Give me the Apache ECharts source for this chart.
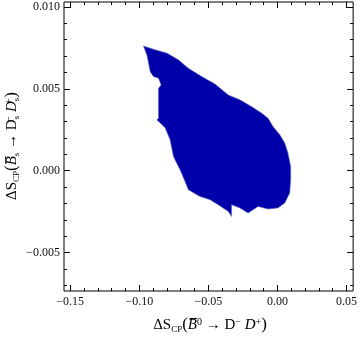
<!DOCTYPE html>
<html><head><meta charset="utf-8">
<script src="https://cdn.jsdelivr.net/npm/echarts@6/dist/echarts.min.js"></script>
<style>html,body{margin:0;padding:0;background:#fff}#c{width:360px;height:339px}</style>
</head><body><div id="c"></div>
<script>
// Region boundary (allowed region), traced clockwise from upper-left tip
const regionX = [-0.0970,-0.0885,-0.0801,-0.0717,-0.0645,-0.0548,-0.0452,-0.0356,-0.0272,-0.0188,-0.0115,-0.0068,-0.0032,0.0017,0.0053,0.0076,0.0096,0.0096,0.0089,0.0053,0.0004,-0.0068,-0.0140,-0.0212,-0.0272,-0.0332,-0.0332,-0.0356,-0.0429,-0.0488,-0.0561,-0.0645,-0.0669,-0.0705,-0.0753,-0.0777,-0.0813,-0.0873,-0.0861,-0.0861,-0.0842,-0.0861,-0.0898,-0.0921,-0.0945];
const regionY = [0.00762,0.00738,0.00718,0.00677,0.00626,0.00575,0.00530,0.00463,0.00433,0.00392,0.00352,0.00321,0.00270,0.00220,0.00169,0.00108,0.00026,-0.00055,-0.00136,-0.00197,-0.00227,-0.00234,-0.00218,-0.00258,-0.00227,-0.00207,-0.00279,-0.00248,-0.00207,-0.00177,-0.00157,-0.00116,-0.00065,0.00006,0.00087,0.00189,0.00262,0.00311,0.00321,0.00504,0.00524,0.00565,0.00575,0.00605,0.00707];

const xMajorTicks = [-0.15,-0.10,-0.05,0.00,0.05];
const xMinorTicks = [-0.14,-0.13,-0.12,-0.11,-0.09,-0.08,-0.07,-0.06,-0.04,-0.03,-0.02,-0.01,0.01,0.02,0.03,0.04];
const yMajorTicks = [-0.005,0.000,0.005,0.010];
const yMinorTicks = [-0.007,-0.006,-0.004,-0.003,-0.002,-0.001,0.001,0.002,0.003,0.004,0.006,0.007,0.008,0.009];
const X_MIN = -0.1545, X_MAX = 0.0548, Y_MIN = -0.00734, Y_MAX = 0.01030;

const chart = echarts.init(document.getElementById('c'), null, {renderer:'canvas'});
const fam = '"Liberation Serif","DejaVu Serif",serif';
const minus = s => s.replace('-', '\u2212');

function mkAxis(kind, pos, ticks, len, labels, fmt, min, max) {
  return {
    type:'value', min:min, max:max, position:pos, gridIndex:0,
    axisLine:{show:false, onZero:false}, splitLine:{show:false},
    axisTick:{show:true, inside:true, length:len, customValues:ticks, lineStyle:{color:'#000', width:1}},
    axisLabel:{show:labels, customValues:ticks, formatter:fmt, fontFamily:fam, fontSize:12, color:'#111', margin: kind==='x'?5:4},
    minorTick:{show:false}
  };
}
const xf = v => minus(v.toFixed(2));
const yf = v => minus(v.toFixed(3));

const rich = {
  n:{fontFamily:fam, fontSize:15, color:'#111', lineHeight:20, verticalAlign:'middle'},
  i:{fontFamily:fam, fontSize:15, fontStyle:'italic', color:'#111', lineHeight:20, verticalAlign:'middle'},
  sb:{fontFamily:fam, fontSize:9, color:'#111', lineHeight:20, verticalAlign:'bottom', padding:[0,0,1,0]},
  sp:{fontFamily:fam, fontSize:10, color:'#111', lineHeight:20, verticalAlign:'top', padding:[2,0,0,0]},
  sz:{fontFamily:fam, fontSize:10, color:'#111', lineHeight:20, verticalAlign:'top', padding:[2,0,0,0], width:0.01},
  p:{fontFamily:fam, fontSize:17, color:'#111', lineHeight:20, verticalAlign:'middle'}
};

const option = {
  animation:false,
  backgroundColor:'#fff',
  grid:{left:64, right:6, top:2, bottom:48, show:true, borderColor:'#000', borderWidth:1, backgroundColor:'transparent'},
  xAxis:[
    mkAxis('x','bottom',xMajorTicks,6,true,xf,X_MIN,X_MAX),
    mkAxis('x','bottom',xMinorTicks,3,false,xf,X_MIN,X_MAX),
    mkAxis('x','top',xMajorTicks,6,false,xf,X_MIN,X_MAX),
    mkAxis('x','top',xMinorTicks,3,false,xf,X_MIN,X_MAX)
  ],
  yAxis:[
    mkAxis('y','left',yMajorTicks,6,true,yf,Y_MIN,Y_MAX),
    mkAxis('y','left',yMinorTicks,3,false,yf,Y_MIN,Y_MAX),
    mkAxis('y','right',yMajorTicks,6,false,yf,Y_MIN,Y_MAX),
    mkAxis('y','right',yMinorTicks,3,false,yf,Y_MIN,Y_MAX)
  ],
  series:[{
    type:'custom', xAxisIndex:0, yAxisIndex:0,
    data:[[regionX[0], regionY[0]]],
    renderItem:function(params, api){
      const pts = regionX.map((x,k)=>api.coord([x, regionY[k]]));
      return {type:'polygon', shape:{points:pts}, style:{fill:'#0000ab', stroke:'#6a6ab8', lineWidth:0.6}};
    }
  }],
  graphic:[
    {type:'text', x:210, y:325, style:{
      text:'{n|ΔS}{sb|CP}{p|(}{i|B\u0305}{sp|0}{n| → D}{sp|−}{n| }{i|D}{sp|+}{p|)}',
      rich:rich, align:'center', verticalAlign:'middle'}},
    {type:'text', x:12, y:146, rotation:Math.PI/2, style:{
      text:'{n|ΔS}{sb|CP}{p|(}{i|B\u0305}{sb|s}{n| → D}{sz|−}{sb|s}{n| }{i|D}{sz|+}{sb|s}{p|)}',
      rich:rich, align:'center', verticalAlign:'middle'}}
  ]
};
chart.setOption(option);
</script></body></html>
